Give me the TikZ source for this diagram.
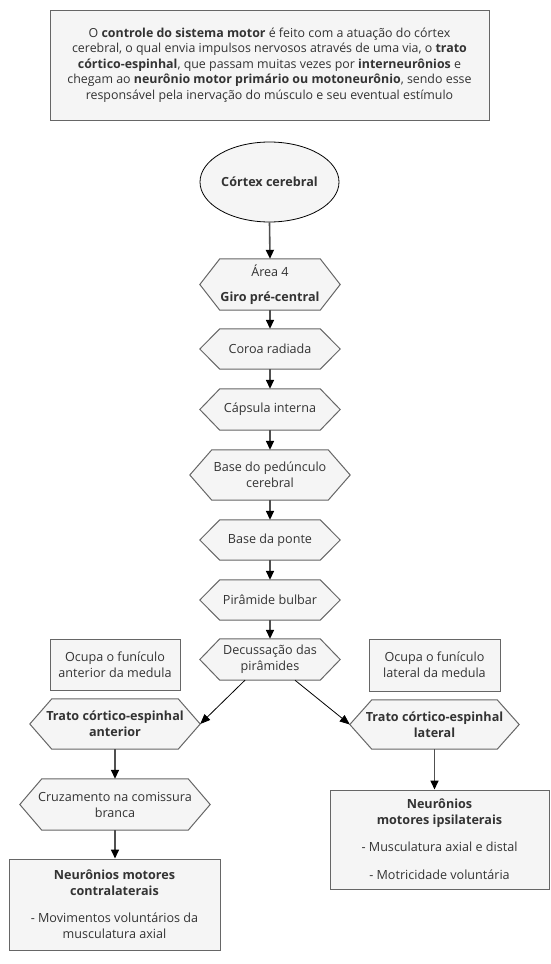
\documentclass[tikz,border=0pt]{standalone}
\usepackage{fontspec}
\setmainfont{Open Sans}
\usetikzlibrary{arrows.meta,backgrounds,calc,shapes.geometric}
\definecolor{boxfill}{HTML}{F5F5F5}
\definecolor{boxline}{HTML}{666666}
\definecolor{txt}{HTML}{333333}
\definecolor{arr}{HTML}{505050}
\tikzset{
  every node/.style={text=txt, font=\fontsize{12.6}{16}\selectfont},
  boxnode/.style={draw=boxline, fill=boxfill, line width=1pt, rectangle, align=center, inner sep=0pt},
  hexnode/.style={rectangle, align=center, inner sep=0pt},
  hexline/.style={draw=boxline, fill=boxfill, line width=1pt, line join=miter},
  mainarrow/.style={draw=arr, line width=1.6pt, -{Triangle[length=9pt,width=8pt,fill=black,color=black]}},
  thinarrow/.style={draw=black, line width=0.8pt, -{Triangle[length=10pt,width=8pt,fill=black]}}
}
\newcommand\hexbg[2][20]{%
  \begin{scope}[on background layer]
    \draw[hexline] (#2.west) -- ([xshift=#1]#2.north west) -- ([xshift=-#1]#2.north east)
      -- (#2.east) -- ([xshift=-#1]#2.south east) -- ([xshift=#1]#2.south west) -- cycle;
  \end{scope}}
\begin{document}
\begin{tikzpicture}[x=1pt,y=-1pt]
\useasboundingbox (0,0) rectangle (550,964);

% top description box
\node[boxnode, minimum width=439pt, minimum height=110pt, font=\fontsize{12.4}{15.5}\selectfont] (intro) at (269.5,65)
 {O \textbf{controle do sistema motor} é feito com a atuação do córtex\\
  cerebral, o qual envia impulsos nervosos através de uma via, o \textbf{trato}\\
  \textbf{córtico-espinhal}, que passam muitas vezes por \textbf{interneurônios} e\\
  chegam ao \textbf{neurônio motor primário ou motoneurônio}, sendo esse\\
  responsável pela inervação do músculo e seu eventual estímulo};

% ellipse
\node[ellipse, draw=black, fill=boxfill, line width=0.8pt, minimum width=139pt, minimum height=80pt, inner sep=0pt] (ctx) at (269.5,182) {\textbf{Córtex cerebral}};

% hexagon nodes
\node[hexnode, minimum width=140pt, minimum height=51pt] (giro) at (270,284.5) {Área 4\\[9pt]\textbf{Giro pré-central}};
\hexbg{giro}
\node[hexnode, minimum width=140pt, minimum height=40pt] (coroa) at (270,349) {Coroa radiada};
\hexbg{coroa}
\node[hexnode, minimum width=140pt, minimum height=41pt] (caps) at (270,409.5) {Cápsula interna};
\hexbg{caps}
\node[hexnode, minimum width=160pt, minimum height=50pt] (ped) at (270,475) {Base do pedúnculo\\cerebral};
\hexbg[22]{ped}
\node[hexnode, minimum width=140pt, minimum height=40pt] (ponte) at (270,540) {Base da ponte};
\hexbg{ponte}
\node[hexnode, minimum width=140pt, minimum height=40pt] (pir) at (270,600) {Pirâmide bulbar};
\hexbg{pir}
\node[hexnode, minimum width=140pt, minimum height=41pt] (dec) at (270,659.5) {Decussação das\\pirâmides};
\hexbg{dec}
\node[hexnode, minimum width=170pt, minimum height=50pt] (tant) at (115,724) {\textbf{Trato córtico-espinhal}\\\textbf{anterior}};
\hexbg[22]{tant}
\node[hexnode, minimum width=169pt, minimum height=49pt] (tlat) at (434.5,724.5) {\textbf{Trato córtico-espinhal}\\\textbf{lateral}};
\hexbg[22]{tlat}
\node[hexnode, minimum width=190pt, minimum height=51pt] (cruz) at (115,804.5) {Cruzamento na comissura\\branca};
\hexbg[22]{cruz}

% side boxes
\node[boxnode, minimum width=130pt, minimum height=51pt] (funant) at (115,664.5) {Ocupa o funículo\\anterior da medula};
\node[boxnode, minimum width=131pt, minimum height=52pt] (funlat) at (434.5,665) {Ocupa o funículo\\lateral da medula};

% bottom boxes
\node[boxnode, minimum width=211pt, minimum height=91pt] (contra) at (114.5,904.5)
 {\textbf{Neurônios motores}\\\textbf{contralaterais}\\[11pt]- Movimentos voluntários da\\musculatura axial};
\node[boxnode, minimum width=219pt, minimum height=99pt] (ipsi) at (439.5,839.5)
 {\textbf{Neurônios}\\\textbf{motores ipsilaterais}\\[11pt]- Musculatura axial e distal\\[12pt]- Motricidade voluntária};

% connectors
\draw[mainarrow] (ctx.south) -- (giro.north);
\draw[mainarrow] (giro.south) -- (coroa.north);
\draw[mainarrow] (coroa.south) -- (caps.north);
\draw[mainarrow] (caps.south) -- (ped.north);
\draw[mainarrow] (ped.south) -- (ponte.north);
\draw[mainarrow] (ponte.south) -- (pir.north);
\draw[mainarrow] (pir.south) -- (dec.north);
\draw[thinarrow] ($(dec.south)+(-25,0)$) -- (tant.east);
\draw[thinarrow] ($(dec.south)+(25,0)$) -- (tlat.west);
\draw[mainarrow] (tant.south) -- (cruz.north);
\draw[mainarrow] (cruz.south) -- (contra.north -| cruz.south);
\draw[mainarrow] (tlat.south) -- (ipsi.north -| tlat.south);
\end{tikzpicture}
\end{document}
